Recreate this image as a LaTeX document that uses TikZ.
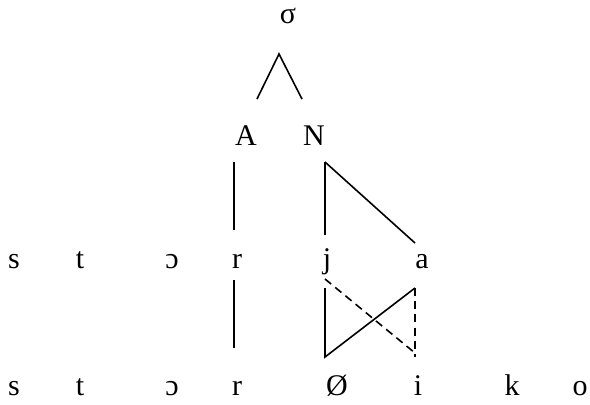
\documentclass[tikz,border=0pt]{standalone}
\usepackage{fontspec}
\setmainfont{Liberation Serif}
\usetikzlibrary{calc}

\begin{document}
\begin{tikzpicture}[
  x=0.5pt,y=-0.5pt,
  seg/.style={anchor=base, inner sep=0pt, font=\fontsize{15}{18}\selectfont},
  assoc/.style={line width=0.8pt, draw=black},
  delink/.style={line width=0.8pt, draw=black, dash pattern=on 4pt off 2.6pt}
]
\useasboundingbox (0,0) rectangle (590,404);

% Syllable node and its constituents
\node[seg] (sigma) at (288,23) {σ};
\node[seg] (A) at (246,145) {A};
\node[seg] (N) at (314,145) {N};

% Input string
\node[seg] (s1) at (14,268) {s};
\node[seg] (t1) at (80,268) {t};
\node[seg] (o1) at (172,268) {ɔ};
\node[seg] (r1) at (237,268) {r};
\node[seg] (j1) at (327,268) {j};
\node[seg] (a1) at (422,268) {a};

% Output string
\node[seg] (s2) at (14,395) {s};
\node[seg] (t2) at (80,395) {t};
\node[seg] (o2) at (172,395) {ɔ};
\node[seg] (r2) at (237,395) {r};
\node[seg] (z2) at (337,395) {Ø};
\node[seg] (i2) at (418,395) {i};
\node[seg] (k2) at (512,395) {k};
\node[seg] (u2) at (580,395) {o};

% Line ends
\coordinate (sigmafoot) at (279,54);
\coordinate (Ahead) at (257,99);
\coordinate (Nhead) at (302,99);
\coordinate (Afoot) at (234,162);
\coordinate (Nfoot) at (325,162);
\coordinate (r1top) at (234,230);
\coordinate (j1top) at (325,235);
\coordinate (a1top) at (415,243);
\coordinate (r1foot) at (234,280);
\coordinate (j1foot) at (325,288);
\coordinate (a1foot) at (415,288);
\coordinate (r2top) at (234,348);
\coordinate (z2top) at (325,357);
\coordinate (i2top) at (415,357);

% Tree branches
\draw[assoc] (Ahead) -- (sigmafoot) -- (Nhead);
\draw[assoc] (Afoot) -- (r1top);
\draw[assoc] (Nfoot) -- (j1top);
\draw[assoc] (Nfoot) -- (a1top);

% Correspondence lines
\draw[assoc] (r1foot) -- (r2top);
\draw[assoc] (j1foot) -- (z2top) -- (a1foot);
\draw[delink] ($(j1foot)+(0,-9)$) -- ($(i2top)+(0,-4)$);
\draw[delink] (a1foot) -- (i2top);

\end{tikzpicture}
\end{document}
